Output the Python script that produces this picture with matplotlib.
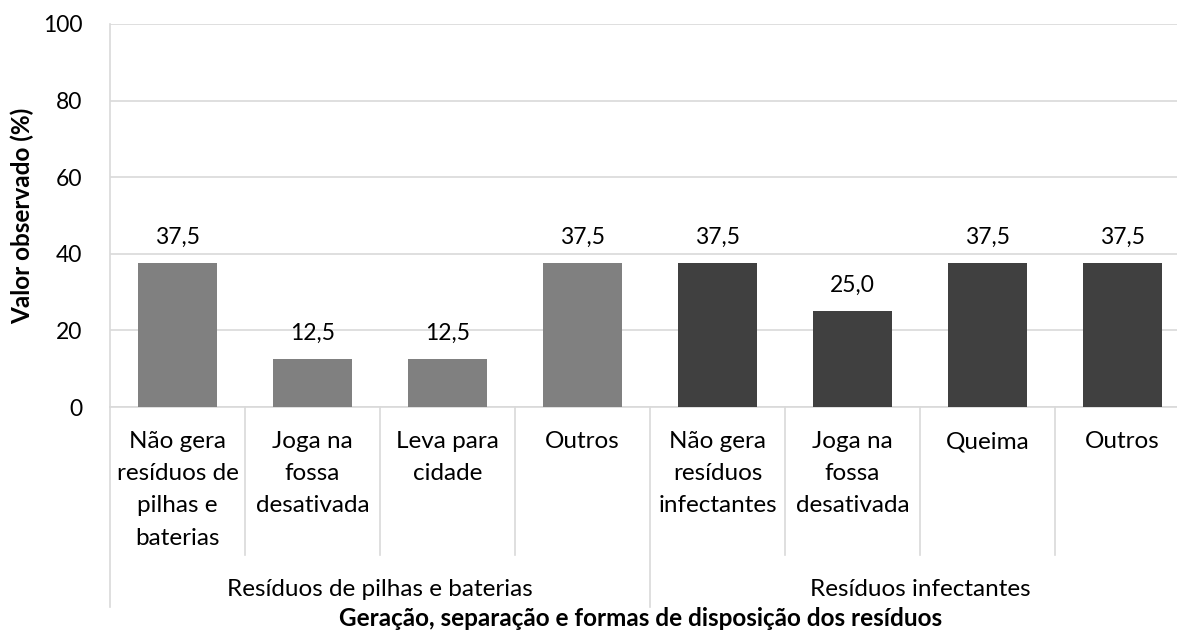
import matplotlib
matplotlib.use("Agg")
import matplotlib.pyplot as plt
from matplotlib.transforms import blended_transform_factory
from matplotlib.lines import Line2D

# Data
groups = ["Resíduos de pilhas e baterias", "Resíduos infectantes"]
categories = [
    "Não gera\nresíduos de\npilhas e\nbaterias",
    "Joga na\nfossa\ndesativada",
    "Leva para\ncidade",
    "Outros",
    "Não gera\nresíduos\ninfectantes",
    "Joga na\nfossa\ndesativada",
    "Queima",
    "Outros",
]
values = [37.5, 12.5, 12.5, 37.5, 37.5, 25.0, 37.5, 37.5]
group_of = [0, 0, 0, 0, 1, 1, 1, 1]
group_colors = ["#808080", "#404040"]
yticks = [0, 20, 40, 60, 80, 100]
ylabel = "Valor observado (%)"
xlabel = "Geração, separação e formas de disposição dos resíduos"

plt.rcParams["font.family"] = ["Lato", "DejaVu Sans"]
FS = 17.5      # text labels
FS_NUM = 16.5  # numbers

W, H = 1177, 631
fig = plt.figure(figsize=(W / 100, H / 100), dpi=100)

# axes in pixel coordinates (right edge runs past the figure border)
left_px, right_px, top_px, bottom_px = 110, 1190, 24, 407
ax = fig.add_axes([left_px / W, 1 - bottom_px / H,
                   (right_px - left_px) / W, (bottom_px - top_px) / H])

x = list(range(len(values)))
colors = [group_colors[g] for g in group_of]
ax.bar(x, values, width=0.59, color=colors, zorder=3)

ax.set_xlim(-0.5, len(values) - 0.5)
ax.set_ylim(0, 100)
ax.set_yticks(yticks)
ax.set_yticklabels([str(t) for t in yticks], fontsize=FS_NUM)
ax.tick_params(axis="y", length=0, pad=20)
ax.set_xticks([])
ax.grid(axis="y", color="#d9d9d9", linewidth=1.2, zorder=0)
for s in ["top", "right"]:
    ax.spines[s].set_visible(False)
ax.spines["left"].set_color("#d9d9d9")
ax.spines["left"].set_linewidth(1.2)
ax.spines["bottom"].set_color("#d9d9d9")
ax.spines["bottom"].set_linewidth(1.2)

# value labels
for xi, v in zip(x, values):
    ax.annotate(f"{v:.1f}".replace(".", ","), xy=(xi, v), xytext=(0, 18.5),
                textcoords="offset points", ha="center", va="center",
                fontsize=FS_NUM, color="#000000")

# category and group labels below the axis
trans = blended_transform_factory(ax.transData, fig.transFigure)
def fy(px):
    return 1 - px / H

for xi, lab in zip(x, categories):
    ax.text(xi, fy(431), lab, transform=trans, ha="center", va="top",
            fontsize=FS, linespacing=1.66, color="#000000")

# separators between categories and between groups
n = len(values)
for k in range(n + 1):
    xb = k - 0.5
    is_group_edge = k == 0 or k == n or group_of[k - 1] != group_of[k]
    y_end = 607 if is_group_edge else 555
    ax.add_line(Line2D([xb, xb], [fy(407), fy(y_end)], transform=trans,
                       color="#d9d9d9", linewidth=1.2, clip_on=False))

for gi, g in enumerate(groups):
    members = [xi for xi in x if group_of[xi] == gi]
    xc = (members[0] + members[-1]) / 2
    ax.text(xc, fy(589), g, transform=trans, ha="center", va="center",
            fontsize=FS, color="#000000")

fig.text(641 / W, fy(618), xlabel, ha="center", va="center",
         fontsize=FS, fontweight="bold")
fig.text(22 / W, fy((top_px + bottom_px) / 2), ylabel, ha="center",
         va="center", rotation=90, fontsize=FS, fontweight="bold")

fig.savefig("out.png", dpi=100)
